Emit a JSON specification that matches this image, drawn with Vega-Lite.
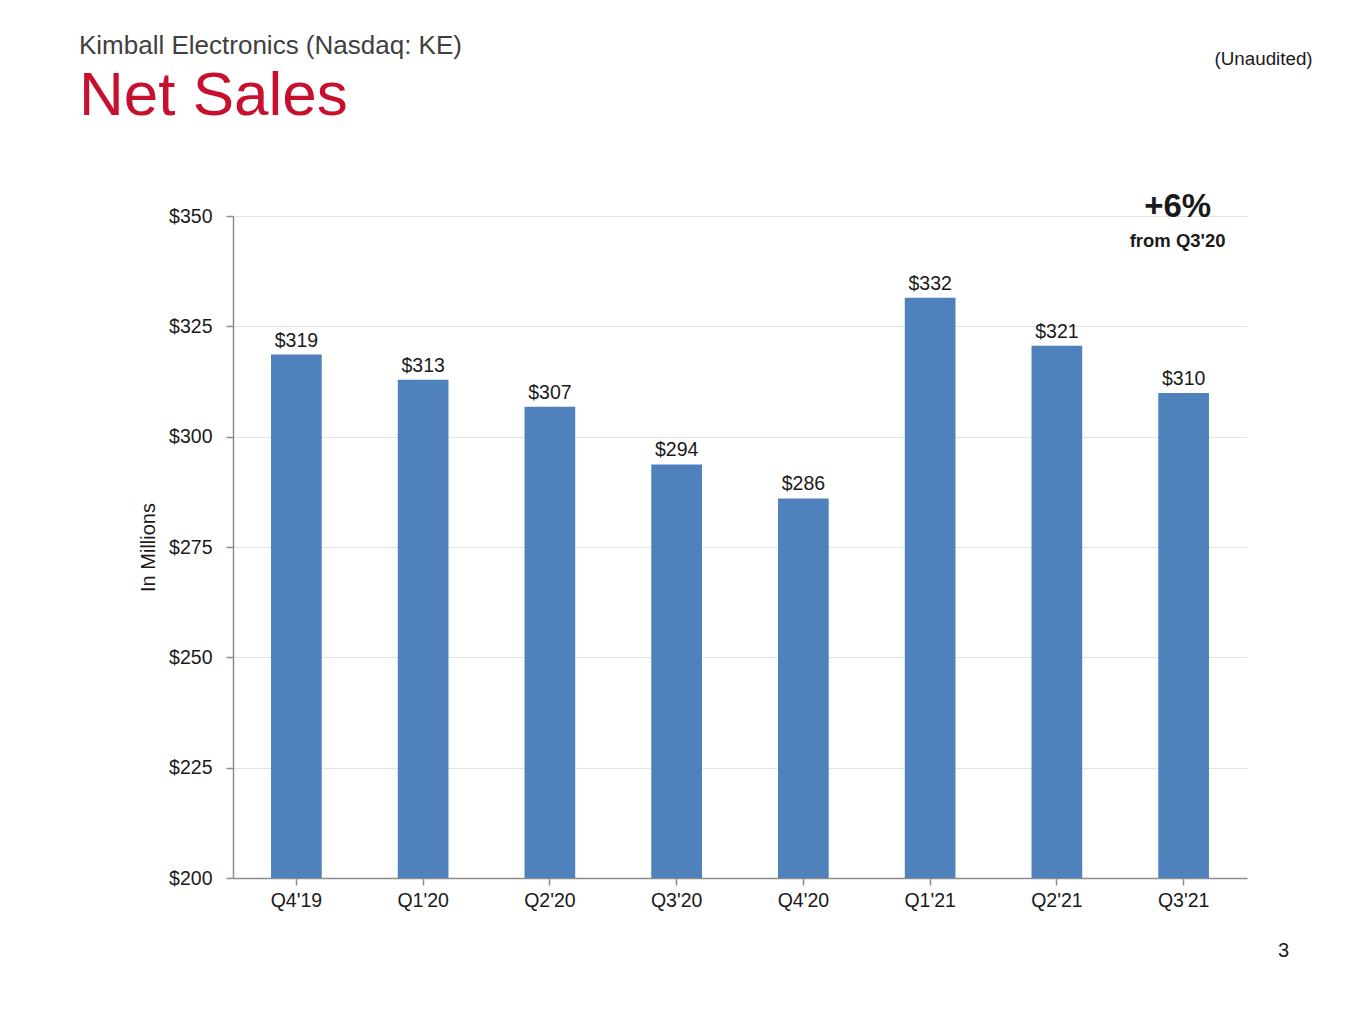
{
  "$schema": "https://vega.github.io/schema/vega-lite/v6.json",
  "autosize": {"type": "none"},
  "padding": {"left": 233, "top": 216, "right": 118, "bottom": 146},
  "width": 1014,
  "height": 662,
  "background": "#ffffff",
  "config": {
    "font": "Liberation Sans",
    "view": {"stroke": null},
    "axis": {
      "labelFont": "Liberation Sans",
      "titleFont": "Liberation Sans",
      "labelFontSize": 19.5,
      "labelColor": "#1a1a1a",
      "domainColor": "#8c8c8c",
      "domainWidth": 1.5,
      "tickColor": "#8c8c8c",
      "tickWidth": 1.5,
      "tickSize": 7
    }
  },
  "title": {
    "text": "Kimball Electronics (Nasdaq: KE)",
    "subtitle": "Net Sales",
    "anchor": "start",
    "frame": "group",
    "dx": -154,
    "offset": -77,
    "font": "Liberation Sans",
    "fontSize": 26,
    "fontWeight": "normal",
    "color": "#404040",
    "subtitleFont": "Liberation Sans",
    "subtitleFontSize": 62,
    "subtitleColor": "#C8102E",
    "subtitlePadding": 7
  },
  "data": {
    "values": [
      {"quarter": "Q4'19", "sales": 318.6},
      {"quarter": "Q1'20", "sales": 312.9},
      {"quarter": "Q2'20", "sales": 306.8},
      {"quarter": "Q3'20", "sales": 293.7},
      {"quarter": "Q4'20", "sales": 286.0},
      {"quarter": "Q1'21", "sales": 331.5},
      {"quarter": "Q2'21", "sales": 320.6},
      {"quarter": "Q3'21", "sales": 309.9}
    ]
  },
  "encoding": {
    "x": {
      "field": "quarter",
      "type": "nominal",
      "sort": null,
      "scale": {"paddingInner": 0.6, "paddingOuter": 0.3},
      "axis": {"title": null, "labelAngle": 0, "labelPadding": 6, "grid": false}
    }
  },
  "layer": [
    {
      "mark": {"type": "bar", "color": "#4F81BD", "clip": true},
      "encoding": {
        "y": {
          "field": "sales",
          "type": "quantitative",
          "scale": {"domain": [200, 350], "nice": false, "zero": false},
          "axis": {
            "title": "In Millions",
            "titleFontSize": 20,
            "titleFontWeight": "normal",
            "titleColor": "#1a1a1a",
            "titlePadding": 10,
            "values": [200, 225, 250, 275, 300, 325, 350],
            "labelExpr": "'$' + datum.value",
            "labelPadding": 14,
            "grid": true,
            "gridColor": "#e3e3e3",
            "gridWidth": 1
          }
        }
      }
    },
    {
      "mark": {"type": "text", "baseline": "alphabetic", "dy": -8, "fontSize": 19.5, "color": "#1a1a1a"},
      "encoding": {
        "y": {"field": "sales", "type": "quantitative"},
        "text": {"field": "sales", "type": "quantitative", "format": "$.0f"}
      }
    },
    {
      "transform": [{"filter": "datum.quarter == \"Q3'21\""}],
      "layer": [
        {
          "mark": {"type": "text", "baseline": "alphabetic", "align": "center", "dx": -6, "dy": 1, "fontSize": 33, "fontWeight": "bold", "color": "#1a1a1a"},
          "encoding": {"y": {"datum": 350, "type": "quantitative"}, "text": {"value": "+6%"}}
        },
        {
          "mark": {"type": "text", "baseline": "alphabetic", "align": "center", "dx": -6, "dy": 31, "fontSize": 18.5, "fontWeight": "bold", "color": "#1a1a1a"},
          "encoding": {"y": {"datum": 350, "type": "quantitative"}, "text": {"value": "from Q3'20"}}
        },
        {
          "mark": {"type": "text", "baseline": "alphabetic", "align": "right", "dx": 129, "dy": -151, "fontSize": 18.8, "color": "#1a1a1a"},
          "encoding": {"y": {"datum": 350, "type": "quantitative"}, "text": {"value": "(Unaudited)"}}
        },
        {
          "mark": {"type": "text", "baseline": "alphabetic", "align": "center", "dx": 100, "dy": 79, "fontSize": 20, "color": "#1a1a1a"},
          "encoding": {"y": {"datum": 200, "type": "quantitative"}, "text": {"value": "3"}}
        }
      ]
    }
  ]
}
